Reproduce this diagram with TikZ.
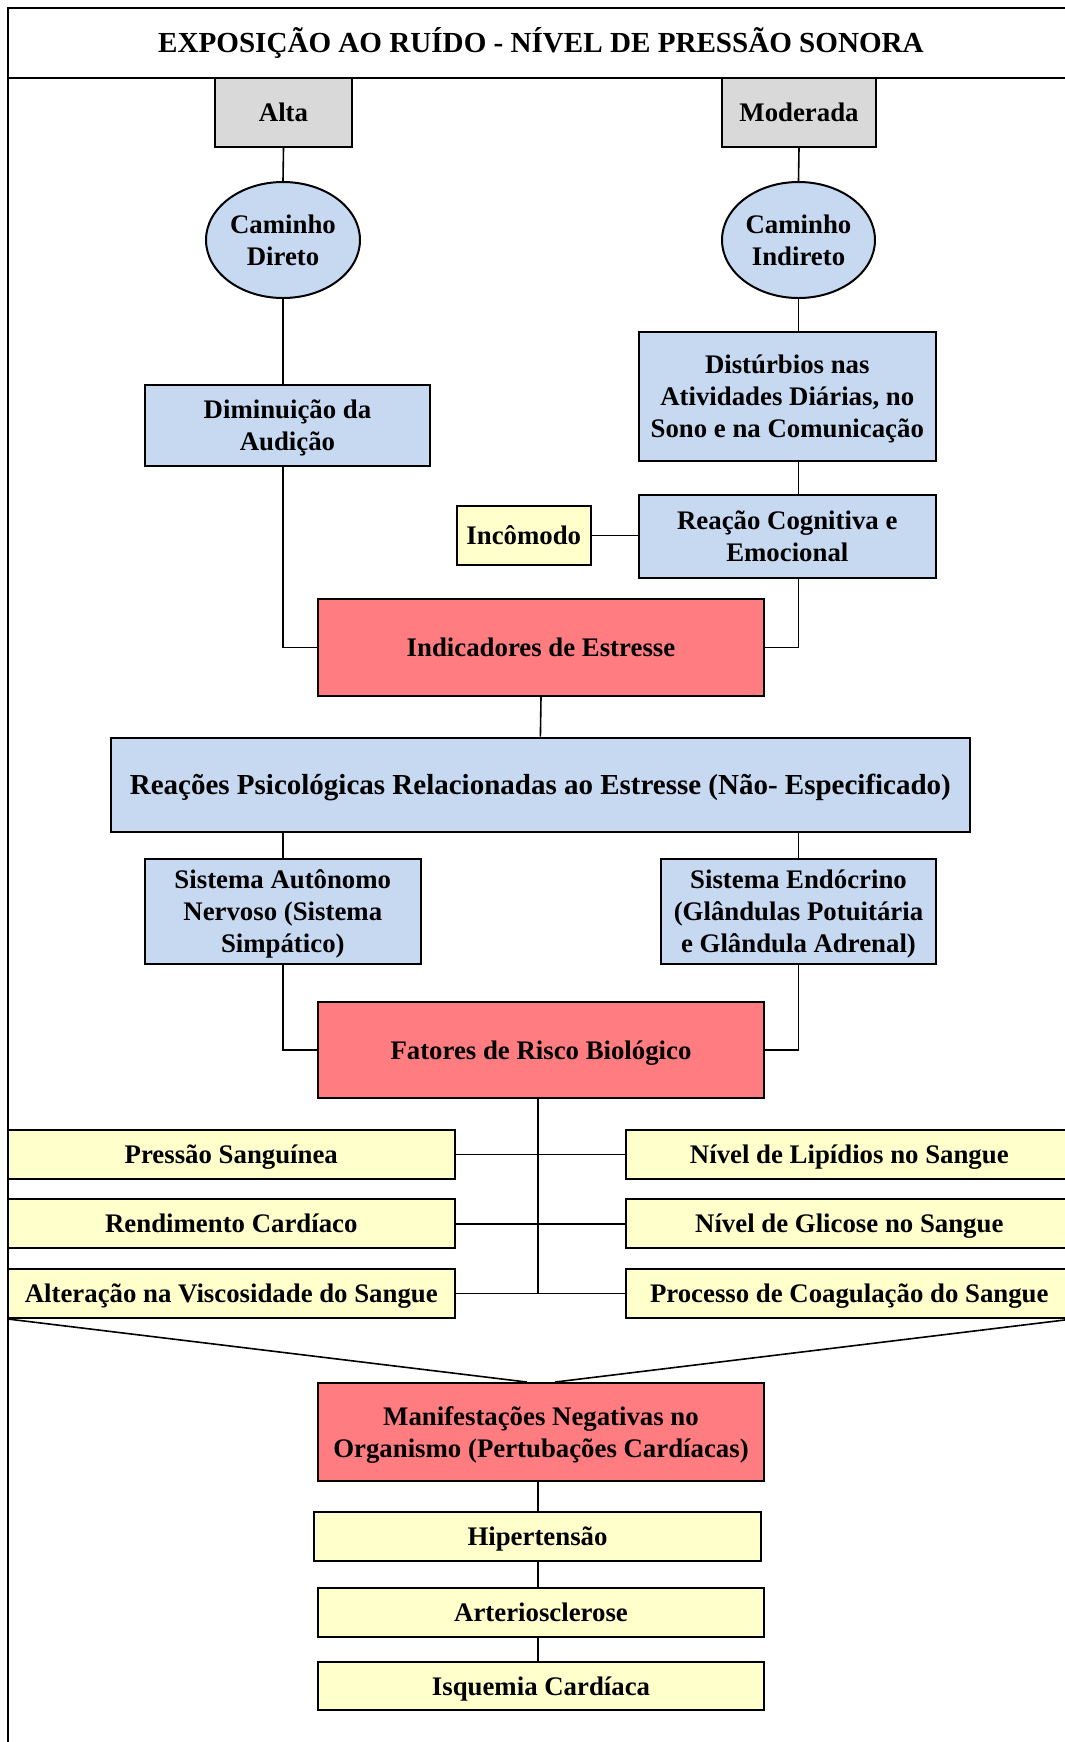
\documentclass[tikz,border=0pt]{standalone}
\usepackage{fontspec}
\setmainfont{Liberation Serif}
\usetikzlibrary{shapes.geometric}
\definecolor{cblue}{HTML}{C6D9F1}
\definecolor{cred}{HTML}{FF7C80}
\definecolor{cyel}{HTML}{FFFFCC}
\definecolor{cgray}{HTML}{D9D9D9}
\begin{document}
\begin{tikzpicture}[x=0.5pt,y=-0.5pt,
  sz/.style 2 args={minimum width=#1*0.5pt, minimum height=#2*0.5pt},
  box/.style={draw=black, line width=1pt, align=center, inner sep=0pt,
    font=\bfseries\fontsize{13.4}{16}\selectfont},
  lone/.style={text height=9.1pt, text depth=0pt},
  ltwo/.style={text height=25.1pt, text depth=0pt},
  lthree/.style={text height=41.1pt, text depth=0pt},
  graybox/.style={box, fill=cgray},
  bluebox/.style={box, fill=cblue},
  redbox/.style={box, fill=cred},
  yelbox/.style={box, fill=cyel},
  oval/.style={box, ellipse, fill=cblue},
  wire/.style={line width=0.8pt},
  frame/.style={line width=0.8pt}]
\path[use as bounding box] (0,0) rectangle (1065,1742);
\clip (0,0) rectangle (1065,1742);
% frame and title
\draw[frame] (1090,8) -- (8,8) -- (8,1760);
\draw[frame] (8,78) -- (1090,78);
\node[font=\bfseries\fontsize{14.55}{16}\selectfont, text height=9.9pt, text depth=0pt, inner sep=0pt] (title) at (541,43) {EXPOSIÇÃO AO RUÍDO - NÍVEL DE PRESSÃO SONORA};
% top level
\node[graybox, lone, sz={137}{69}] (alta) at (283.5,112.5) {Alta};
\node[graybox, lone, sz={154}{69}] (moderada) at (799,112.5) {Moderada};
\node[oval, ltwo, sz={154}{116}] (direto) at (283,240) {Caminho\\Direto};
\node[oval, ltwo, sz={153}{116}] (indireto) at (798.5,240) {Caminho\\Indireto};
\node[bluebox, ltwo, sz={285}{81}] (diminuicao) at (287.5,425.5) {Diminuição da\\Audição};
\node[bluebox, lthree, sz={297}{129}] (disturbios) at (787.3,396.4) {Distúrbios nas\\Atividades Diárias, no\\Sono e na Comunicação};
\node[yelbox, lone, sz={134.5}{59.3}] (incomodo) at (523.8,535.4) {Incômodo};
\node[bluebox, ltwo, sz={297}{83}] (reacao) at (787.3,536.2) {Reação Cognitiva e\\Emocional};
\node[redbox, lone, sz={446}{97}] (indicadores) at (541,647.5) {Indicadores de Estresse};
\node[bluebox, sz={859}{94}, font=\bfseries\fontsize{14.5}{17}\selectfont, text height=9.9pt, text depth=0pt] (reacoes) at (540.4,784.7) {Reações Psicológicas Relacionadas ao Estresse (Não- Especificado)};
\node[bluebox, lthree, sz={275.5}{105}] (autonomo) at (282.8,911.5) {Sistema Autônomo\\Nervoso (Sistema\\Simpático)};
\node[bluebox, lthree, sz={275}{105}] (endocrino) at (798.5,911.5) {Sistema Endócrino\\(Glândulas Potuitária\\e Glândula Adrenal)};
\node[redbox, lone, sz={446}{96.3}] (fatores) at (541,1049.9) {Fatores de Risco Biológico};
% factor rows
\node[yelbox, lone, sz={446.5}{49}] (pressao) at (231.3,1154.5) {Pressão Sanguínea};
\node[yelbox, lone, sz={446.5}{49}] (rendimento) at (231.3,1223.7) {Rendimento Cardíaco};
\node[yelbox, lone, sz={446.5}{49}] (viscosidade) at (231.3,1293.4) {Alteração na Viscosidade do Sangue};
\node[yelbox, lone, sz={446.5}{49}] (lipidios) at (849.3,1154.5) {Nível de Lipídios no Sangue};
\node[yelbox, lone, sz={446.5}{49}] (glicose) at (849.3,1223.7) {Nível de Glicose no Sangue};
\node[yelbox, lone, sz={446.5}{49}] (coagulacao) at (849.3,1293.4) {Processo de Coagulação do Sangue};
% outcomes
\node[redbox, ltwo, sz={446}{97.7}] (manif) at (541,1431.9) {Manifestações Negativas no\\Organismo (Pertubações Cardíacas)};
\node[yelbox, lone, sz={447}{49}] (hiper) at (537.5,1536.5) {Hipertensão};
\node[yelbox, lone, sz={446}{49}] (arterio) at (541,1612.5) {Arteriosclerose};
\node[yelbox, lone, sz={446}{48.3}] (isquemia) at (541,1685.9) {Isquemia Cardíaca};
% connectors
\draw[wire] (alta.south) -- (direto.north);
\draw[wire] (direto.south) -- (direto.south |- diminuicao.north);
\draw[wire] (direto.south |- diminuicao.south) |- (indicadores.west);
\draw[wire] (moderada.south) -- (indireto.north);
\draw[wire] (indireto.south) -- (indireto.south |- disturbios.north);
\draw[wire] (indireto.south |- disturbios.south) -- (indireto.south |- reacao.north);
\draw[wire] (incomodo.east) -- (incomodo.east -| reacao.west);
\draw[wire] (indireto.south |- reacao.south) |- (indicadores.east);
\draw[wire] (indicadores.south) -- (reacoes.north);
\draw[wire] (autonomo.north |- reacoes.south) -- (autonomo.north);
\draw[wire] (endocrino.north |- reacoes.south) -- (endocrino.north);
\draw[wire] (autonomo.south) |- (fatores.west);
\draw[wire] (endocrino.south) |- (fatores.east);
\coordinate (trunktop) at ([xshift=-1.5pt]fatores.south);
\coordinate (trunkend) at (trunktop |- viscosidade.east);
\draw[wire] (trunktop) -- (trunkend);
\draw[wire] (pressao.east) -- (lipidios.west);
\draw[wire] (rendimento.east) -- (glicose.west);
\draw[wire] (viscosidade.east) -- (coagulacao.west);
\draw[wire] (viscosidade.south west) -- ([xshift=-7pt]manif.north);
\draw[wire] (coagulacao.south east) -- ([xshift=7pt]manif.north);
\draw[wire] (trunktop |- manif.south) -- (trunktop |- hiper.north);
\draw[wire] (trunktop |- hiper.south) -- (trunktop |- arterio.north);
\draw[wire] (trunktop |- arterio.south) -- (trunktop |- isquemia.north);
\end{tikzpicture}
\end{document}
